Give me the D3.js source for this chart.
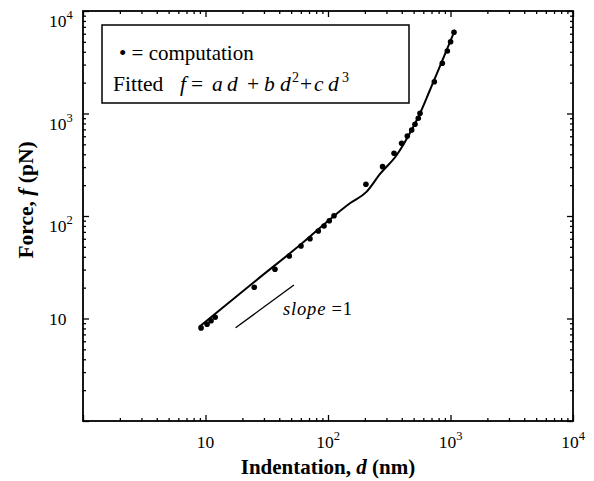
<!DOCTYPE html>
<html>
<head>
<meta charset="utf-8">
<script src="https://cdn.jsdelivr.net/npm/d3@7"></script>
<style>
  body { margin: 0; background: #fff; }
  text { font-family: "Liberation Serif", "Times New Roman", serif; fill: #000; }
</style>
</head>
<body>
<div id="chart"></div>
<script>
// computed points (indentation nm, force pN)
var dotD = [9.2, 10.3, 11.1, 12.0, 25.0, 36.9, 48.3, 60.2, 71.3, 83.4, 92.8, 102.5, 112,
  204, 279, 346, 399, 444, 482, 513, 546, 564, 738, 857, 942, 1002, 1068];
var dotF = [8.1, 8.8, 9.5, 10.3, 20.2, 30.2, 40.7, 51, 60, 71.4, 79.9, 90, 100.7,
  204, 303, 409, 512, 603, 690, 785, 898, 1004, 2043, 3090, 4074, 5010, 6195];

// fitted curve
var fitD = [8.85, 26.2, 59.1, 110, 151, 207, 266, 364, 497, 546, 680, 1088];
var fitF = [8.26, 23.8, 52.1, 98.5, 133, 173, 257, 394, 743, 925, 1695, 6530];

// slope = 1 guide
var slopeD = [17.6, 52.7];
var slopeF = [8.13, 21.2];

var majorTicks = [1, 10, 100, 1000, 10000];
var xLabels = [[10, ""], [100, "2"], [1000, "3"], [10000, "4"]];
var yLabels = [[10, ""], [100, "2"], [1000, "3"], [10000, "4"]];

var W = 594, H = 481;
var margin = { top: 11, right: 21, bottom: 60, left: 83 },
  width = W - margin.left - margin.right,
  height = H - margin.top - margin.bottom;

var svg = d3.select("#chart").append("svg")
  .attr("width", W).attr("height", H)
  .append("g")
  .attr("transform", "translate(" + margin.left + "," + margin.top + ")");

var x = d3.scaleLog().domain([1, 10000]).range([0, width]);
var y = d3.scaleLog().domain([1, 10000]).range([height, 0]);

// minor ticks 2..9 per decade
var minor = [];
[1, 10, 100, 1000].forEach(function (p) {
  for (var k = 2; k <= 9; k++) minor.push(p * k);
});

function styleAxis(g) {
  g.select(".domain").remove();
  g.selectAll("line").attr("stroke", "#000").attr("stroke-width", 1.3);
  g.selectAll("text").remove();
}

// ticks on all four sides, pointing inward
svg.append("g").attr("transform", "translate(0," + height + ")")
  .call(d3.axisBottom(x).tickValues(majorTicks).tickSize(-6)).call(styleAxis);
svg.append("g").attr("transform", "translate(0," + height + ")")
  .call(d3.axisBottom(x).tickValues(minor).tickSize(-3)).call(styleAxis);
svg.append("g")
  .call(d3.axisTop(x).tickValues(majorTicks).tickSize(-6)).call(styleAxis);
svg.append("g")
  .call(d3.axisTop(x).tickValues(minor).tickSize(-3)).call(styleAxis);
svg.append("g")
  .call(d3.axisLeft(y).tickValues(majorTicks).tickSize(-6)).call(styleAxis);
svg.append("g")
  .call(d3.axisLeft(y).tickValues(minor).tickSize(-3)).call(styleAxis);
svg.append("g").attr("transform", "translate(" + width + ",0)")
  .call(d3.axisRight(y).tickValues(majorTicks).tickSize(-6)).call(styleAxis);
svg.append("g").attr("transform", "translate(" + width + ",0)")
  .call(d3.axisRight(y).tickValues(minor).tickSize(-3)).call(styleAxis);

// frame
svg.append("rect")
  .attr("width", width).attr("height", height)
  .attr("fill", "none").attr("stroke", "#000").attr("stroke-width", 1.8);

// tick labels
xLabels.forEach(function (l) {
  var t = svg.append("text")
    .attr("x", x(l[0])).attr("y", height + 27)
    .attr("text-anchor", "middle").style("font-size", "17.5px");
  t.append("tspan").text("10");
  if (l[1]) t.append("tspan").attr("dy", -8).style("font-size", "12.5px").text(l[1]);
});
yLabels.forEach(function (l) {
  var t = svg.append("text")
    .attr("x", -34).attr("y", y(l[0]) + (l[1] ? 16 : 6))
    .style("font-size", "17.5px");
  t.append("tspan").text("10");
  if (l[1]) t.append("tspan").attr("dy", -8).style("font-size", "12.5px").text(l[1]);
});

// axis titles
var xt = svg.append("text")
  .attr("x", width / 2).attr("y", height + 53)
  .attr("text-anchor", "middle")
  .style("font-size", "21px").style("font-weight", "bold");
xt.append("tspan").text("Indentation, ");
xt.append("tspan").style("font-style", "italic").text("d");
xt.append("tspan").text(" (nm)");

var yt = svg.append("text")
  .attr("transform", "translate(-50," + (height / 2 - 16) + ") rotate(-90)")
  .attr("text-anchor", "middle")
  .style("font-size", "21.5px").style("font-weight", "bold");
yt.append("tspan").text("Force, ");
yt.append("tspan").style("font-style", "italic").text("f");
yt.append("tspan").text(" (pN)");

// fitted curve
var line = d3.line()
  .x(function (d) { return x(d[0]); })
  .y(function (d) { return y(d[1]); })
  .curve(d3.curveMonotoneX);
svg.append("path")
  .datum(d3.zip(fitD, fitF))
  .attr("fill", "none").attr("stroke", "#000").attr("stroke-width", 2)
  .attr("d", line);

// points
svg.selectAll(".dot")
  .data(d3.zip(dotD, dotF))
  .enter().append("circle")
  .attr("class", "dot")
  .attr("cx", function (d) { return x(d[0]); })
  .attr("cy", function (d) { return y(d[1]); })
  .attr("r", 2.8).attr("fill", "#000");

// slope guide
svg.append("path")
  .datum(d3.zip(slopeD, slopeF))
  .attr("fill", "none").attr("stroke", "#000").attr("stroke-width", 1.4)
  .attr("d", d3.line().x(function (d) { return x(d[0]); }).y(function (d) { return y(d[1]); }));

var st = svg.append("text")
  .attr("x", x(43)).attr("y", y(10.8))
  .style("font-size", "18.5px").style("letter-spacing", "0.8px");
st.append("tspan").style("font-style", "italic").text("slope");
st.append("tspan").text(" =1");

// legend box
var lg = svg.append("g").attr("transform", "translate(19,14)");
lg.append("rect")
  .attr("width", 307).attr("height", 78)
  .attr("fill", "#fff").attr("stroke", "#000").attr("stroke-width", 1.5);

var l1 = lg.append("text").attr("x", 17).attr("y", 35).style("font-size", "21px");
l1.append("tspan").text("\u2022 = computation");

// second legend line, each piece placed along the row
var l2 = lg.append("text").attr("y", 66).style("font-size", "21.5px");
var parts = [
  ["Fitted", 11, false], ["f", 78, true], ["=", 89, false], ["a", 110, true],
  ["d", 125, true], ["+", 145, false], ["b", 162, true], ["d", 178, true],
  ["+", 198, false], ["c", 212, true], ["d", 226, true]
];
parts.forEach(function (p) {
  l2.append("tspan").attr("x", p[1]).attr("dy", 0)
    .style("font-style", p[2] ? "italic" : "normal").text(p[0]);
});
lg.append("text").attr("x", 190).attr("y", 57).style("font-size", "14px").text("2");
lg.append("text").attr("x", 240).attr("y", 57).style("font-size", "14px").text("3");
</script>
</body>
</html>
